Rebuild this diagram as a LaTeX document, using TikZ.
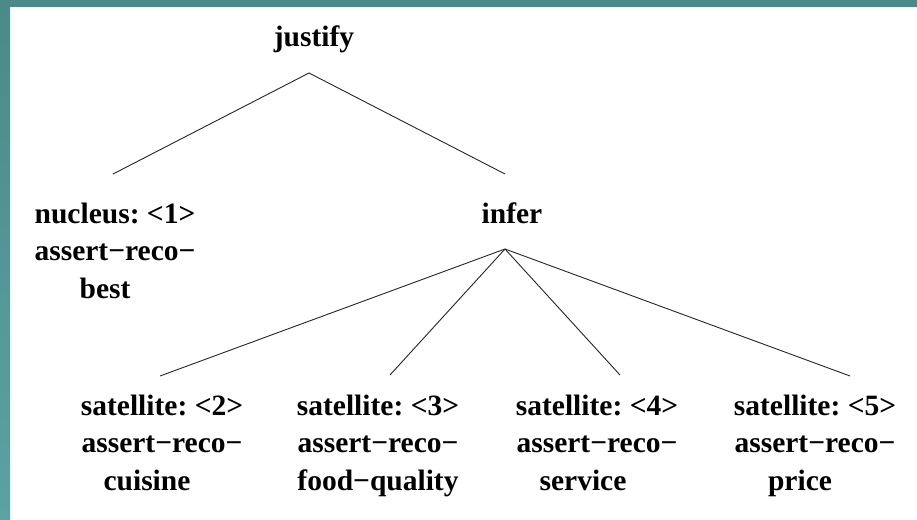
\documentclass[tikz,border=0pt]{standalone}
\usepackage{fontspec}
\setmainfont{Liberation Serif}
\frenchspacing
\definecolor{bartop}{HTML}{4A8A88}
\definecolor{barlow}{HTML}{5CA2A2}
\begin{document}
\begin{tikzpicture}[x=1pt,y=-1pt,
  lbl/.style={font=\fontsize{29.5}{37.5}\selectfont\bfseries,
              align=center, inner sep=0pt, anchor=base},
  link/.style={line width=0.9pt, draw=black!85}]
  % page and frame strips
  \useasboundingbox (0,0) rectangle (917,519);
  \fill[white] (0,0) rectangle (917,519);
  \shade[top color=bartop, bottom color=barlow] (0,0) rectangle (10,519);
  \fill[bartop] (0,0) rectangle (917,7);

  % labels (base anchor = baseline of the last line)
  \node[lbl] (justify) at (314,47) {justify};
  \node[lbl] (nucleus) at (115,298) {nucleus: <1>\\assert−reco−\\best\hspace*{20pt}};
  \node[lbl] (infer)   at (512,223) {infer};
  \node[lbl] (sat2) at (162,490) {satellite: <2>\\assert−reco−\\cuisine\hspace*{30pt}};
  \node[lbl] (sat3) at (378,490) {satellite: <3>\\assert−reco−\\food−quality};
  \node[lbl] (sat4) at (597,490) {satellite: <4>\\assert−reco−\\service\hspace*{28pt}};
  \node[lbl] (sat5) at (815,490) {satellite: <5>\\assert−reco−\\price\hspace*{30pt}};

  % connector end points
  \coordinate (justify-foot) at (309,73);
  \coordinate (nucleus-head) at (113,174);
  \coordinate (infer-head)   at (505,174);
  \coordinate (infer-foot)   at (505,249);
  \coordinate (sat2-head) at (160,376);
  \coordinate (sat3-head) at (390,375);
  \coordinate (sat4-head) at (620,375);
  \coordinate (sat5-head) at (850,376);

  % tree edges
  \draw[link] (nucleus-head) -- (justify-foot) -- (infer-head);
  \foreach \s in {sat2,sat3,sat4,sat5}
    \draw[link] (infer-foot) -- (\s-head);
\end{tikzpicture}
\end{document}
